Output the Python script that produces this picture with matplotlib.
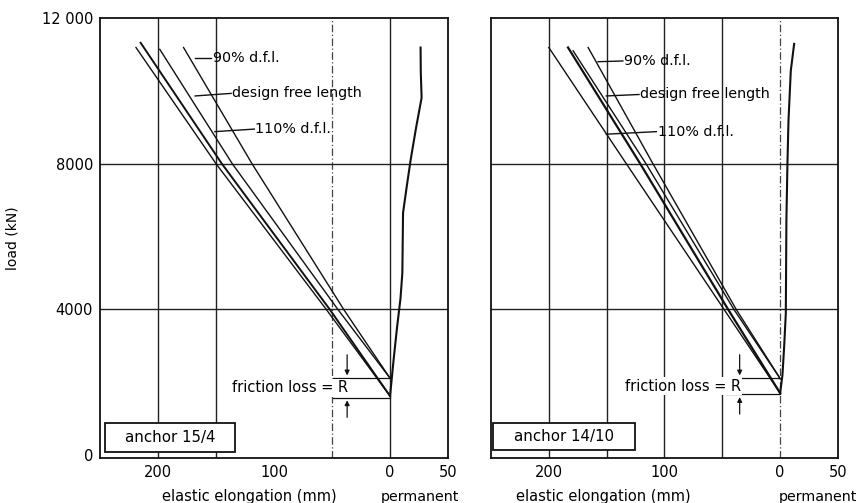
import matplotlib.pyplot as plt
from matplotlib.patches import Rectangle

# x < 0: elastic elongation (mm, plotted leftwards), x > 0: permanent (mm)
# ---- anchor 15/4 ----
l_x_110 = [-219, -150, -55, 0]
l_y_110 = [11190, 8000, 4000, 1620]
l_x_meas = [-215, -145, -52, 0]
l_y_meas = [11320, 8000, 4000, 1620]
l_x_dfl = [-198.5, -136, -45, 0]
l_y_dfl = [11140, 8000, 4000, 2110]
l_x_90 = [-178, -119, -40, 0]
l_y_90 = [11190, 8000, 4000, 2110]
l_perm_x = [0, 3, 6, 9, 10.6, 11.2, 14.5, 17.8, 22.5, 27.2, 26.5, 26.3]
l_perm_y = [1620, 2600, 3500, 4300, 5000, 6650, 7400, 8115, 9000, 9810, 10500, 11190]
l_friction = [1580, 2110]

# ---- anchor 14/10 ----
r_x_110 = [-200, -133, -48.5, 0]
r_y_110 = [11190, 8000, 4000, 1700]
r_x_meas = [-183.4, -121, -45, 0]
r_y_meas = [11190, 8000, 4000, 1700]
r_x_dfl = [-179, -116, -40, 0]
r_y_dfl = [11100, 8000, 4000, 2100]
r_x_90 = [-166, -110, -38, 0]
r_y_90 = [11190, 8000, 4000, 2100]
r_perm_x = [0, 2, 3.5, 4.9, 5.4, 6.3, 7.2, 9.2, 12.1]
r_perm_y = [1700, 2200, 3000, 3890, 6440, 8000, 9180, 10550, 11290]
r_friction = [1670, 2110]

x_ticks = [-200, -100, 0, 50]
x_ticklabels = ["200", "100", "0", "50"]
y_ticks = [0, 4000, 8000, 12000]
y_ticklabels = ["0", "4000", "8000", "12 000"]

label_texts = ["90% d.f.l.", "design free length", "110% d.f.l."]
# leader lines (start on curve, end at text) for each panel
l_leaders = [(-168, 10890, -154, 10890), (-168, 9860, -137, 9930), (-151, 8880, -117, 8950)]
r_leaders = [(-157.5, 10800, -136, 10820), (-150.3, 9860, -122, 9900), (-150.3, 8810, -107, 8880)]

plt.rcParams['font.family'] = 'DejaVu Sans'
fig = plt.figure(figsize=(8.6, 5.03), dpi=100)
ax1 = fig.add_axes([0.1163, 0.0895, 0.4047, 0.8747])
ax2 = fig.add_axes([0.5709, 0.0895, 0.4035, 0.8747])


def draw_panel(ax, lines, perm, leaders, friction, fric_x, name, box, solid_x, dash_x,
               elastic_pos, perm_pos):
    ax.set_xlim(-250, 50)
    ax.set_ylim(-80, 12000)
    for gx in solid_x:
        ax.axvline(gx, color='#222222', lw=1.0, zorder=1)
    for gx in dash_x:
        ax.axvline(gx, color='#444444', lw=0.9, ls=(0, (6, 2, 1, 2)), zorder=1)
    for gy in [4000, 8000]:
        ax.axhline(gy, color='#222222', lw=1.0, zorder=1)

    for (xs, ys, w) in lines:
        ax.plot(xs, ys, color='#111111', lw=w, zorder=3)
    ax.plot(perm[0], perm[1], color='#111111', lw=1.5, zorder=3)

    for (x0, y0, x1, y1), txt in zip(leaders, label_texts):
        ax.plot([x0, x1], [y0, y1], color='#111111', lw=1.0, zorder=3)
        ax.text(x1 + 1, y1, txt, fontsize=10.3, va='center', ha='left', zorder=4)

    # friction loss marker
    lo, hi = friction
    ax.plot([fric_x - 12, -1], [hi, hi], color='#111111', lw=0.9, zorder=3)
    ax.plot([fric_x - 12, 0], [lo, lo], color='#111111', lw=0.9, zorder=3)
    ax.annotate('', xy=(fric_x, hi), xytext=(fric_x, hi + 720),
                arrowprops=dict(arrowstyle='-|>', color='#111111', lw=0.9,
                                mutation_scale=7), zorder=3)
    ax.annotate('', xy=(fric_x, lo), xytext=(fric_x, lo - 620),
                arrowprops=dict(arrowstyle='-|>', color='#111111', lw=0.9,
                                mutation_scale=7), zorder=3)
    ax.text(fric_x + 1, (lo + hi) / 2, 'friction loss = R', fontsize=10.5,
            ha='right', va='center', zorder=4,
            bbox=dict(fc='white', ec='none', pad=1.0))

    bx0, bx1, by0, by1 = box
    ax.add_patch(Rectangle((bx0, by0), bx1 - bx0, by1 - by0, transform=ax.transAxes,
                           fc='white', ec='#111111', lw=1.3, zorder=5))
    ax.text((bx0 + bx1) / 2, (by0 + by1) / 2, name, transform=ax.transAxes,
            fontsize=10.8, ha='center', va='center', zorder=6)

    ax.set_xticks(x_ticks)
    ax.set_xticklabels(x_ticklabels, fontsize=10.5)
    ax.tick_params(length=0, pad=5)
    tr = ax.get_xaxis_transform()
    ax.text(elastic_pos, -0.088, 'elastic elongation (mm)', transform=tr,
            fontsize=10.5, ha='center', va='center')
    ax.text(perm_pos, -0.088, 'permanent', transform=tr,
            fontsize=10.3, ha='center', va='center')
    for s in ax.spines.values():
        s.set_linewidth(1.3)
        s.set_color('#111111')


draw_panel(ax1,
           [(l_x_110, l_y_110, 1.0), (l_x_meas, l_y_meas, 1.4),
            (l_x_dfl, l_y_dfl, 1.0), (l_x_90, l_y_90, 1.0)],
           (l_perm_x, l_perm_y), l_leaders, l_friction, -37, 'anchor 15/4',
           (0.0144, 0.388, 0.0136, 0.0795),
           [-200, -150, 0], [-50], -121, 26)
draw_panel(ax2,
           [(r_x_110, r_y_110, 1.0), (r_x_meas, r_y_meas, 1.6),
            (r_x_dfl, r_y_dfl, 1.0), (r_x_90, r_y_90, 1.0)],
           (r_perm_x, r_perm_y), r_leaders, r_friction, -35, 'anchor 14/10',
           (0.0058, 0.415, 0.018, 0.0795),
           [-200, -150, -100, -50], [0], -153, 33)

ax1.set_yticks(y_ticks)
ax1.set_yticklabels(y_ticklabels, fontsize=10.5)
ax1.set_ylabel('load (kN)', fontsize=10, labelpad=16)
ax2.set_yticks([])

fig.savefig('out.png', dpi=100)
